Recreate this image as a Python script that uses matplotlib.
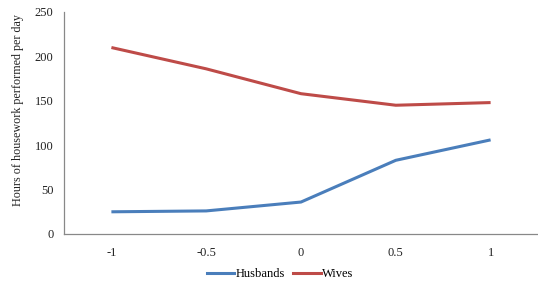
import matplotlib
matplotlib.use("Agg")
import matplotlib.pyplot as plt
from matplotlib.lines import Line2D

categories = ["-1", "-0.5", "0", "0.5", "1"]
husbands = [25, 26, 36, 83, 106]
wives = [210, 186, 158, 145, 148]
yticks = [0, 50, 100, 150, 200, 250]

W, H = 538, 284
fig = plt.figure(figsize=(W / 100, H / 100), dpi=100)
fig.patch.set_facecolor("white")
ax = fig.add_axes([64 / W, (H - 234) / H, (W - 64) / W, (234 - 12) / H])

x = list(range(len(categories)))
blue = "#4A7EBB"
red = "#BE4B48"
ax.plot(x, husbands, color=blue, lw=2.2, solid_capstyle="butt", label="Husbands")
ax.plot(x, wives, color=red, lw=2.2, solid_capstyle="butt", label="Wives")

ax.set_xlim(-0.5, len(categories) - 0.5)
ax.set_ylim(0, 250)
ax.set_yticks(yticks)
ax.set_yticklabels([str(v) for v in yticks])
ax.set_xticks(x)
ax.set_xticklabels(categories)

font = "Liberation Serif"
for lab in ax.get_xticklabels() + ax.get_yticklabels():
    lab.set_fontfamily(font)
    lab.set_fontsize(9)
    lab.set_color("#222222")
ax.tick_params(axis="both", length=0)
ax.tick_params(axis="y", pad=7.5)
ax.tick_params(axis="x", pad=9)

for s in ["top", "right"]:
    ax.spines[s].set_visible(False)
for s in ["left", "bottom"]:
    ax.spines[s].set_color("#888888")
    ax.spines[s].set_linewidth(0.9)

ax.set_ylabel("Hours of housework performed per day", fontfamily=font,
              fontsize=8.7, color="#222222")
ax.yaxis.set_label_coords(-(64 - 24) / (W - 64), 0.56)

handles = [Line2D([0], [0], color=blue, lw=2.2), Line2D([0], [0], color=red, lw=2.2)]
fig.legend(handles, ["Husbands", "Wives"], loc="center", bbox_to_anchor=(280 / W, 1 - 274 / H),
           ncol=2, frameon=False, prop={"family": font, "size": 9},
           handlelength=2.2, handletextpad=0.1, columnspacing=0.7)

fig.savefig("out.png", dpi=100, facecolor="white")
